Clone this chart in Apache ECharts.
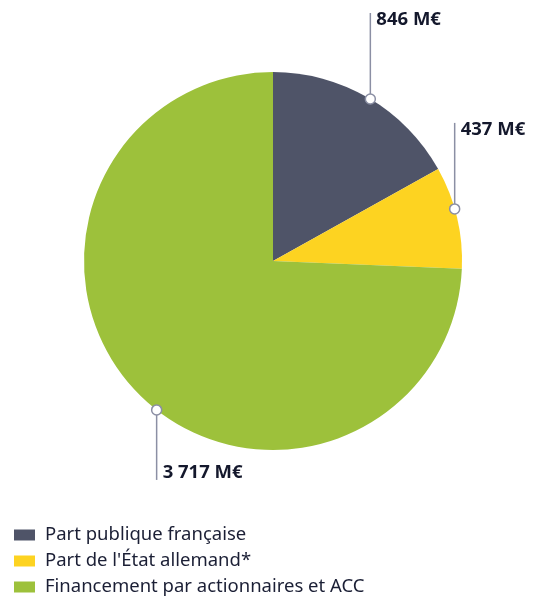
<!DOCTYPE html>
<html>
<head>
<meta charset="utf-8">
<script src="https://cdn.jsdelivr.net/npm/echarts@6/dist/echarts.min.js"></script>
<style>
  html, body { margin: 0; padding: 0; background: #fff; }
  #chart { width: 539px; height: 597px; }
</style>
</head>
<body>
<div id="chart"></div>
<script>
var categories = ['Part publique française', "Part de l'État allemand*", 'Financement par actionnaires et ACC'];
var values = [846, 437, 3717];
var colors = ['#4f5468', '#fdd321', '#9dc13b'];

// where the leader lines touch the pie (degrees, counter-clockwise from east) and how long they run
var anchorAngles = [59, 16, -128];
var leadLen = [-86, -86, 70];

var cx = 273, cy = 261, R = 189;

function fmt(v) {
    return String(v).replace(/\B(?=(\d{3})+(?!\d))/g, ' ') + ' M€';
}

var myChart = echarts.init(document.getElementById('chart'));

var data = [];
values.forEach(function(v, i) {
    data.push({ name: categories[i], value: v, itemStyle: { color: colors[i] } });
});

var markers = anchorAngles.map(function(a) { return [1, 90 - a]; });

var option = {
    animation: false,
    legend: {
        orient: 'vertical',
        left: 14,
        top: 525,
        height: 80,
        padding: 0,
        itemWidth: 21,
        itemHeight: 11,
        itemGap: 6,
        icon: 'rect',
        textStyle: { fontFamily: 'Noto Sans', fontSize: 18.5, color: '#1b1f35', lineHeight: 20, padding: [0, 0, 0, 5] },
        data: categories
    },
    polar: { center: [cx, cy], radius: [0, R] },
    angleAxis: { type: 'value', min: 0, max: 360, startAngle: 90, show: false },
    radiusAxis: { type: 'value', min: 0, max: 1, show: false },
    series: [
        {
            type: 'pie',
            center: [cx, cy],
            radius: [0, R],
            startAngle: 90,
            clockwise: true,
            data: data,
            itemStyle: { borderWidth: 0 },
            emphasis: { disabled: true },
            label: {
                show: true,
                position: 'outside',
                overflow: 'none',
                formatter: function(p) { return fmt(p.value); },
                fontFamily: 'Noto Sans',
                fontWeight: 'bold',
                fontSize: 18.5,
                color: '#14182c'
            },
            labelLine: {
                show: true,
                lineStyle: { color: '#8b8fa4', width: 1.5 }
            },
            labelLayout: function(p) {
                var a = anchorAngles[p.dataIndex] * Math.PI / 180;
                var x0 = cx + R * Math.cos(a), y0 = cy - R * Math.sin(a);
                var d = leadLen[p.dataIndex];
                var y1 = y0 + d;
                return {
                    x: x0 + 6,
                    y: y1 + (d < 0 ? 7 : -7),
                    align: 'left',
                    verticalAlign: 'middle',
                    width: 120,
                    labelLinePoints: [[x0, y0], [x0, y1], [x0, y1]]
                };
            }
        },
        {
            type: 'scatter',
            coordinateSystem: 'polar',
            data: markers,
            symbol: 'circle',
            symbolSize: 10,
            z: 10,
            silent: true,
            itemStyle: { color: '#ffffff', borderColor: '#8b8fa4', borderWidth: 1.5, opacity: 1 }
        }
    ]
};

myChart.setOption(option);
</script>
</body>
</html>
